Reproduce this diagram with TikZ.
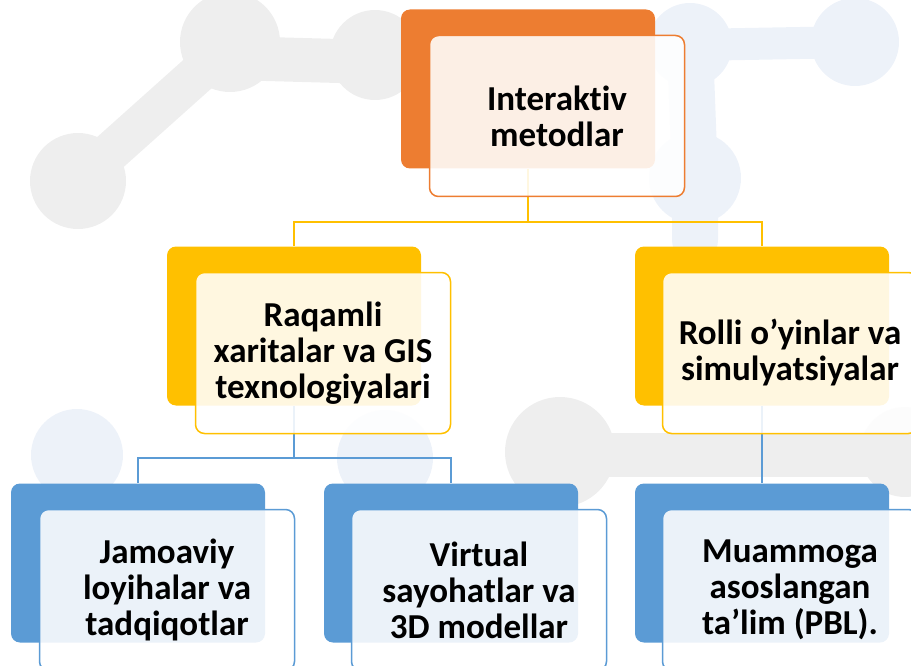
\documentclass[tikz,border=0pt]{standalone}
\usepackage{fontspec}
\setmainfont{Carlito}[Ligatures=NoCommon]
\usepackage{tikz}
\usetikzlibrary{positioning}

\definecolor{orng}{HTML}{ED7D31}
\definecolor{ylw}{HTML}{FFC000}
\definecolor{blu}{HTML}{5B9BD5}
\definecolor{wmgrey}{HTML}{EEEEEE}
\definecolor{wmblue}{HTML}{EDF2F9}

\tikzset{
  back/.style={rectangle,rounded corners=9pt,fill=#1,draw=none,
    minimum width=254pt,minimum height=159pt,inner sep=0pt},
  front/.style={rectangle,rounded corners=9pt,draw=#1,line width=1.5pt,
    fill=white,fill opacity=0.88,text opacity=1,
    minimum width=255pt,minimum height=161pt,inner sep=0pt,
    align=center,font=\fontsize{35}{36}\selectfont\bfseries},
  link/.style={draw=#1,line width=1.6pt}
}

\begin{document}
\begin{tikzpicture}[x=1pt,y=-1pt]
\useasboundingbox (0,0) rectangle (911,666);

% faint background logo
\begin{scope}[line cap=round]
\draw [wmgrey,line width=40pt] (78,181) -- (230,45);
\draw [wmgrey,line width=44pt] (230,58) -- (375,62);
\fill [wmgrey] (78,181) circle (48) (230,42) circle (50) (375,55) circle (45);
\draw [wmblue,line width=32pt] (690,45) -- (855,42);
\draw [wmblue,line width=46pt] (690,45) -- (695,178) -- (695,240);
\fill [wmblue] (855,42) circle (44) (690,45) circle (42) (695,178) circle (46);
\fill [wmblue] (77,455) circle (46) (385,458) circle (48);
\draw [wmgrey,line width=44pt] (560,455) -- (900,455);
\fill [wmgrey] (560,452) circle (55) (905,452) circle (45);
\end{scope}

% back boxes
\node (topb) at (528,89) [back=orng] {};
\node (mlb) at (294,326) [back=ylw] {};
\node (mrb) at (762,326) [back=ylw] {};
\node (blb) at (138,563) [back=blu] {};
\node (bmb) at (451,563) [back=blu] {};
\node (brb) at (762,563) [back=blu] {};

% connectors
\coordinate (j1) at (528,222);
\coordinate (j2) at (294,458);
\draw [link=ylw] (topb.south) -- (j1) -| (mlb.north);
\draw [link=ylw] (j1) -| (mrb.north);
\draw [link=blu] (mlb.south) -- (j2) -| (blb.north);
\draw [link=blu] (j2) -| (bmb.north);
\draw [link=blu] (mrb.south) -- (brb.north);

% front boxes with text
\node (top) at (557,116) [front=orng] {Interaktiv\\metodlar};
\node (ml) at (323,353) [front=ylw] {Raqamli\\xaritalar va GIS\\texnologiyalari};
\node (mr) at (790,353) [front=ylw] {Rolli o’yinlar va\\simulyatsiyalar};
\node (bl) at (167,590) [front=blu] {Jamoaviy\\loyihalar va\\tadqiqotlar};
\node (bm) at (479,590) [front=blu] {Virtual\\sayohatlar va\\3D modellar};
\node (br) at (790,590) [front=blu] {Muammoga\\asoslangan\\ta’lim (PBL).};
\end{tikzpicture}
\end{document}
